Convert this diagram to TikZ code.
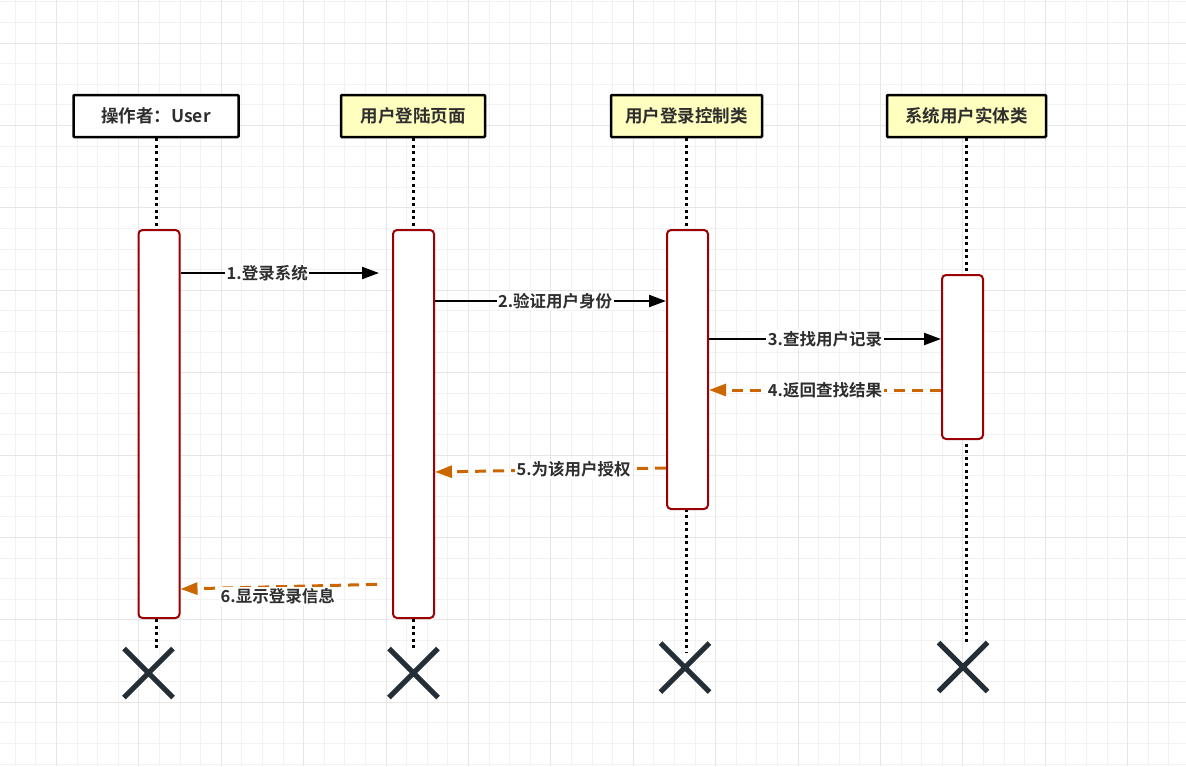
\documentclass[tikz,border=0pt]{standalone}
\usepackage{fontspec}
\newfontfamily\cjk[BoldFont={Noto Sans CJK SC Bold}]{Noto Sans CJK SC}
\usetikzlibrary{arrows.meta, shapes.misc}
\definecolor{textgray}{HTML}{2E2E2E}
\definecolor{barred}{HTML}{9C0000}
\definecolor{replyorange}{HTML}{CC6600}
\definecolor{headyellow}{HTML}{FFFFC0}
\definecolor{crossgray}{HTML}{242E36}
\definecolor{gridminor}{HTML}{F2F2F2}
\definecolor{gridmajor}{HTML}{E6E6E6}
\tikzset{
  header/.style={rectangle, rounded corners=1pt, draw=black, line width=2.5pt, fill=white,
                 minimum height=42pt, inner sep=0pt, text=textgray,
                 font=\cjk\bfseries\fontsize{17.5}{20}\selectfont},
  classhead/.style={header, fill=headyellow},
  activation/.style={rectangle, rounded corners=4pt, draw=barred, line width=2pt, fill=white,
                     minimum width=41pt, inner sep=0pt},
  lifeline/.style={line width=3pt, dash pattern=on 3pt off 3.5pt},
  destroy/.style={cross out, draw=crossgray, line width=5pt, minimum size=44pt, inner sep=0pt},
  msg/.style={-{Triangle[length=17pt, width=12pt]}, line width=2.2pt},
  reply/.style={-{Triangle[length=17pt, width=12pt]}, line width=3pt, draw=replyorange,
                dash pattern=on 11pt off 7pt},
  msglabel/.style={fill=white, inner sep=1.5pt, text=textgray,
                   font=\cjk\bfseries\fontsize{16.5}{18}\selectfont},
}
\begin{document}
\begin{tikzpicture}[x=1pt, y=-1pt]

  \useasboundingbox (0,0) rectangle (1186,766);
  \fill[white] (0,0) rectangle (1186,766);

  % =====================================================
  % BACKGROUND GRID
  % =====================================================

  \foreach \gx in {15.3,35.9,...,1186}
    \draw[gridminor, line width=1pt] (\gx,0) -- (\gx,766);
  \foreach \gy in {1.8,22.4,...,766}
    \draw[gridminor, line width=1pt] (0,\gy) -- (1186,\gy);
  \foreach \gx in {56.5,138.9,...,1186}
    \draw[gridmajor, line width=1pt] (\gx,0) -- (\gx,766);
  \foreach \gy in {43,125.4,...,766}
    \draw[gridmajor, line width=1pt] (0,\gy) -- (1186,\gy);


  % =====================================================
  % PARTICIPANTS
  % =====================================================

  \node[header, minimum width=165pt] (user) at (156,116) {操作者：User};

  \node[classhead, minimum width=144pt] (page) at (413,116) {用户登陆页面};

  \node[classhead, minimum width=151pt] (ctrl) at (686.5,116) {用户登录控制类};

  \node[classhead, minimum width=159pt] (entity) at (966.5,116) {系统用户实体类};


  % =====================================================
  % DESTRUCTION MARKS
  % =====================================================

  \node[destroy] (userx) at (148.5,673) {};
  \node[destroy] (pagex) at (413.5,673) {};
  \node[destroy] (ctrlx) at (685,667.5) {};
  \node[destroy] (entityx) at (963,667) {};


  % =====================================================
  % LIFELINES
  % =====================================================

  \draw[lifeline] (user.south) -- (user.south |- userx.north);
  \draw[lifeline] (page.south) -- (page.south |- pagex.north);
  \draw[lifeline] (ctrl.south) -- ([yshift=-10pt]ctrl.south |- ctrlx.north);
  \draw[lifeline] (entity.south) -- (entity.south |- entityx.north);


  % =====================================================
  % ACTIVATION BARS
  % =====================================================

  \node[activation, minimum height=388pt] (usera) at (159,424) {};
  \node[activation, minimum height=388pt] (pagea) at (413.5,424) {};
  \node[activation, minimum height=279pt] (ctrla) at (687.5,369.5) {};
  \node[activation, minimum height=164pt] (entitya) at (962.5,357) {};


  % =====================================================
  % MESSAGES
  % =====================================================

  \coordinate (m1) at (0,273);
  \coordinate (m2) at (0,301);
  \coordinate (m3) at (0,339);
  \coordinate (m4) at (0,390);
  \coordinate (m5a) at (0,468);
  \coordinate (m5b) at (0,472);
  \coordinate (m6a) at (0,584);
  \coordinate (m6b) at (0,589);

  \draw[msg, shorten >=13pt]
    (usera.east |- m1) --
    node[msglabel, pos=0.41]{1.登录系统}
    (pagea.west |- m1);

  \draw[msg]
    (pagea.east |- m2) --
    node[msglabel, pos=0.52]{2.验证用户身份}
    (ctrla.west |- m2);

  \draw[msg]
    (ctrla.east |- m3) --
    node[msglabel]{3.查找用户记录}
    (entitya.west |- m3);


  % =====================================================
  % REPLIES
  % =====================================================

  \draw[reply]
    (entitya.west |- m4) --
    node[msglabel]{4.返回查找结果}
    (ctrla.east |- m4);

  \draw[reply]
    (ctrla.west |- m5a) --
    node[msglabel, pos=0.4]{5.为该用户授权}
    (pagea.east |- m5b);

  \draw[reply, shorten <=15pt]
    (pagea.west |- m6a) --
    node[msglabel, pos=0.54, yshift=-9.5pt]{6.显示登录信息}
    (usera.east |- m6b);

\end{tikzpicture}
\end{document}
